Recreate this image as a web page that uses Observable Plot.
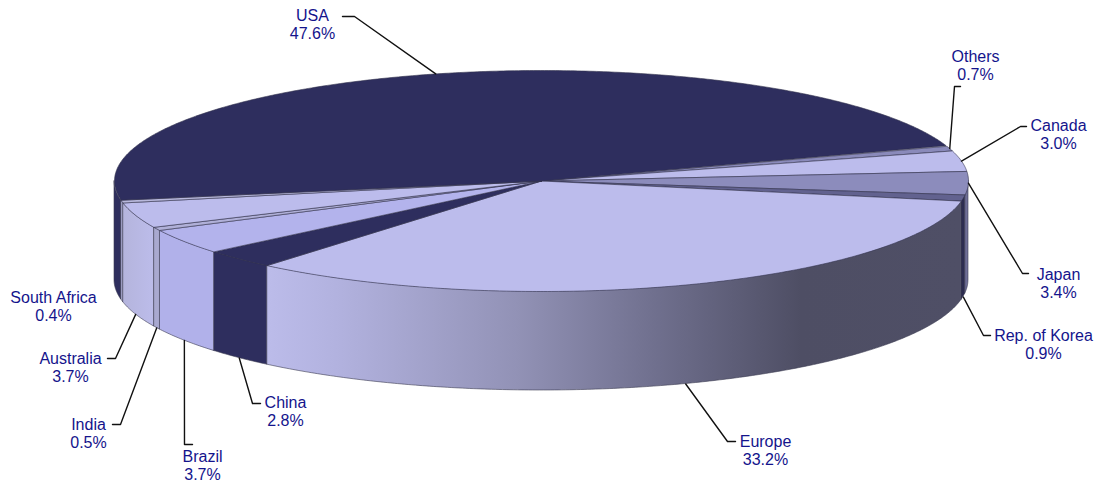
<!DOCTYPE html>
<html><head><meta charset="utf-8">
<style>html,body{margin:0;padding:0;background:#fff}svg{display:block}</style>
<script src="https://cdn.jsdelivr.net/npm/d3@7"></script>
<script src="https://cdn.jsdelivr.net/npm/@observablehq/plot@0.6"></script>
</head><body><div id="chart"></div>
<script>
// Data (clockwise on screen, starting at the slice after USA)
const names = ["Others","Canada","Japan","Rep. of Korea","Europe","China","Brazil","India","Australia","South Africa","USA"];
const shares = [0.7,3.0,3.4,0.9,33.2,2.8,3.7,0.5,3.7,0.4,47.6];
const topColors = ["#8a8aba","#bcbcec","#8c8cbc","#62628f","#bcbcec","#2e2e5e","#b3b3ec","#b0b0d8","#bcbcec","#b8b8dc","#2e2e5e"];
const wallColors = ["#6f6f96","#8a8ab8","#6f6f96","#2c2c50","url(#europeWall)","#2e2e5e","#b1b1ea","#a9a9d0","url(#australiaWall)","#a9a9d0","#2e2e5e"];

// Pie geometry, in chart units
const cx = 541, cy = 180.5, rx = 427, ry = 110.5, depth = 99, startDeg = -18.3;
// Label layout, in chart units
const elbowX = [954,1020,1022,983,727,252,184,120,115,null,354];
const elbowY = [86,126,273,335,441,403,444,424,358,null,16];
const stubX = [960,1026,1028,990,735,260,192,112,107,null,342];
const labelX = [975,1058,1058,1043,765,285,202,88,70,53,312];
const labelY = [65,134,283,344,450,411,465,433,367,306,24];

const rad = d => d * Math.PI / 180;
let acc = startDeg;
const slices = names.map((name,i) => {
  const t0 = acc, t1 = acc + shares[i] * 3.6; acc = t1;
  return {name, share: shares[i], t0, t1, mid:(t0+t1)/2, i};
});
const arcPts = (a,b) => {
  const n = Math.max(2, Math.ceil((b-a)/0.5));
  return d3.range(n+1).map(k => a + (b-a)*k/n);
};
const px = t => cx + rx*Math.cos(rad(t));
const py = t => cy + ry*Math.sin(rad(t));

// Side walls: the visible front half, t in [0,180]
const walls = slices.flatMap(s => {
  const a = Math.max(s.t0,0), b = Math.min(s.t1,180);
  if (b <= a) return [];
  const pts = arcPts(a,b).map(t => ({x:px(t), top:py(t), bottom:py(t)+depth}));
  return [Plot.areaY(pts,{x:"x",y1:"top",y2:"bottom",fill:wallColors[s.i],stroke:"#3a3a50",strokeWidth:0.6,curve:"linear"})];
});

// Top faces
const tops = slices.map(s => {
  const pts = [{x:cx,y:cy},...arcPts(s.t0,s.t1).map(t => ({x:px(t),y:py(t)})),{x:cx,y:cy}];
  return Plot.line(pts,{x:"x",y:"y",fill:topColors[s.i],stroke:"#33334d",strokeWidth:0.6,curve:"linear"});
});

// Leaders
const leaders = slices.filter(s => elbowX[s.i] !== null).flatMap(s => {
  const onWall = s.mid > 5 && s.mid < 175;
  const pts = [
    {x:px(s.mid), y:py(s.mid)+(onWall?depth:0)},
    {x:elbowX[s.i], y:elbowY[s.i]},
    {x:stubX[s.i], y:elbowY[s.i]}
  ];
  return [Plot.line(pts,{x:"x",y:"y",stroke:"#111",strokeWidth:1.4,curve:"linear"})];
});

const labels = slices.map(s => ({text:`${s.name}\n${s.share.toFixed(1)}%`, x:labelX[s.i], y:labelY[s.i]}));

const defs = () => {
  const ns = "http://www.w3.org/2000/svg";
  const d = document.createElementNS(ns,"defs");
  const grad = (id,stops) => {
    const g = document.createElementNS(ns,"linearGradient");
    g.setAttribute("id",id);
    stops.forEach(([o,c]) => {
      const st = document.createElementNS(ns,"stop");
      st.setAttribute("offset",o); st.setAttribute("stop-color",c); g.appendChild(st);
    });
    d.appendChild(g);
  };
  grad("europeWall",[[0,"#bcbcea"],[0.1,"#b2b2df"],[0.36,"#9292b6"],[0.57,"#6e6e8c"],[0.77,"#4e4e64"],[1,"#4f4f66"]]);
  grad("australiaWall",[[0,"#b4b4dc"],[1,"#bcbcea"]]);
  return d;
};

const chart = Plot.plot({
  width:1097, height:482, margin:0,
  style:{background:"#fff"},
  x:{domain:[0,1097],range:[0,1097],axis:null},
  y:{domain:[0,482],range:[0,482],axis:null},
  marks:[
    defs,
    ...walls,
    ...tops,
    ...leaders,
    Plot.text(labels,{x:"x",y:"y",text:"text",fill:"#14148c",fontSize:16,fontFamily:"Liberation Sans, Arial, sans-serif",textAnchor:"middle",lineHeight:1.125,lineAnchor:"middle"})
  ]
});
document.getElementById("chart").appendChild(chart);
</script></body></html>
